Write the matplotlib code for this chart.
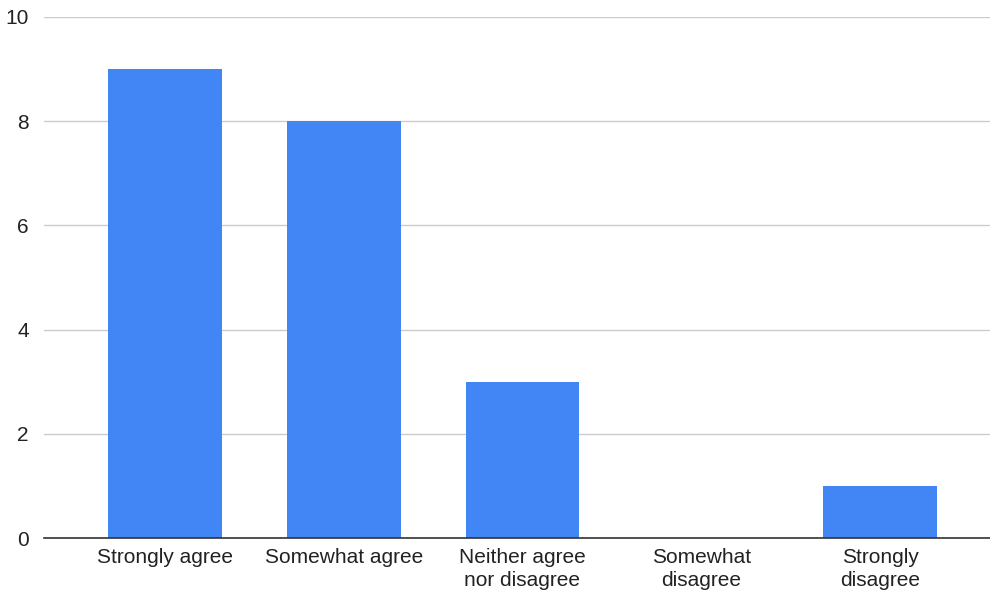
import matplotlib.pyplot as plt

categories = ["Strongly agree", "Somewhat agree", "Neither agree\nnor disagree",
              "Somewhat\ndisagree", "Strongly\ndisagree"]
counts = [9, 8, 3, 0, 1]
y_ticks = [0, 2, 4, 6, 8, 10]

plt.rcParams['font.family'] = ['Liberation Sans', 'DejaVu Sans']

fig = plt.figure(figsize=(9.9, 5.97), dpi=100)
ax = fig.add_axes([44 / 990, 1 - 538 / 597, 1 - 44 / 990, (538 - 17) / 597])

x = list(range(len(categories)))
ax.bar(x, counts, width=0.637, color="#4285f4", zorder=3)

ax.set_xlim(-0.676, 4.615)
ax.set_ylim(0, 10)
ax.set_yticks(y_ticks)
ax.set_xticks(x)
ax.set_xticklabels(categories, fontsize=15, color="#222222", linespacing=1.3)
ax.tick_params(axis="y", labelsize=15, labelcolor="#222222", length=0, pad=11)
ax.tick_params(axis="x", length=0, pad=7)

ax.grid(axis="y", color="#cccccc", linewidth=1, zorder=0)
for side in ["top", "right", "left"]:
    ax.spines[side].set_visible(False)
ax.spines["bottom"].set_color("#333333")
ax.spines["bottom"].set_linewidth(1.2)
ax.spines["bottom"].set_zorder(4)

fig.savefig("out.png", dpi=100, facecolor="white")
